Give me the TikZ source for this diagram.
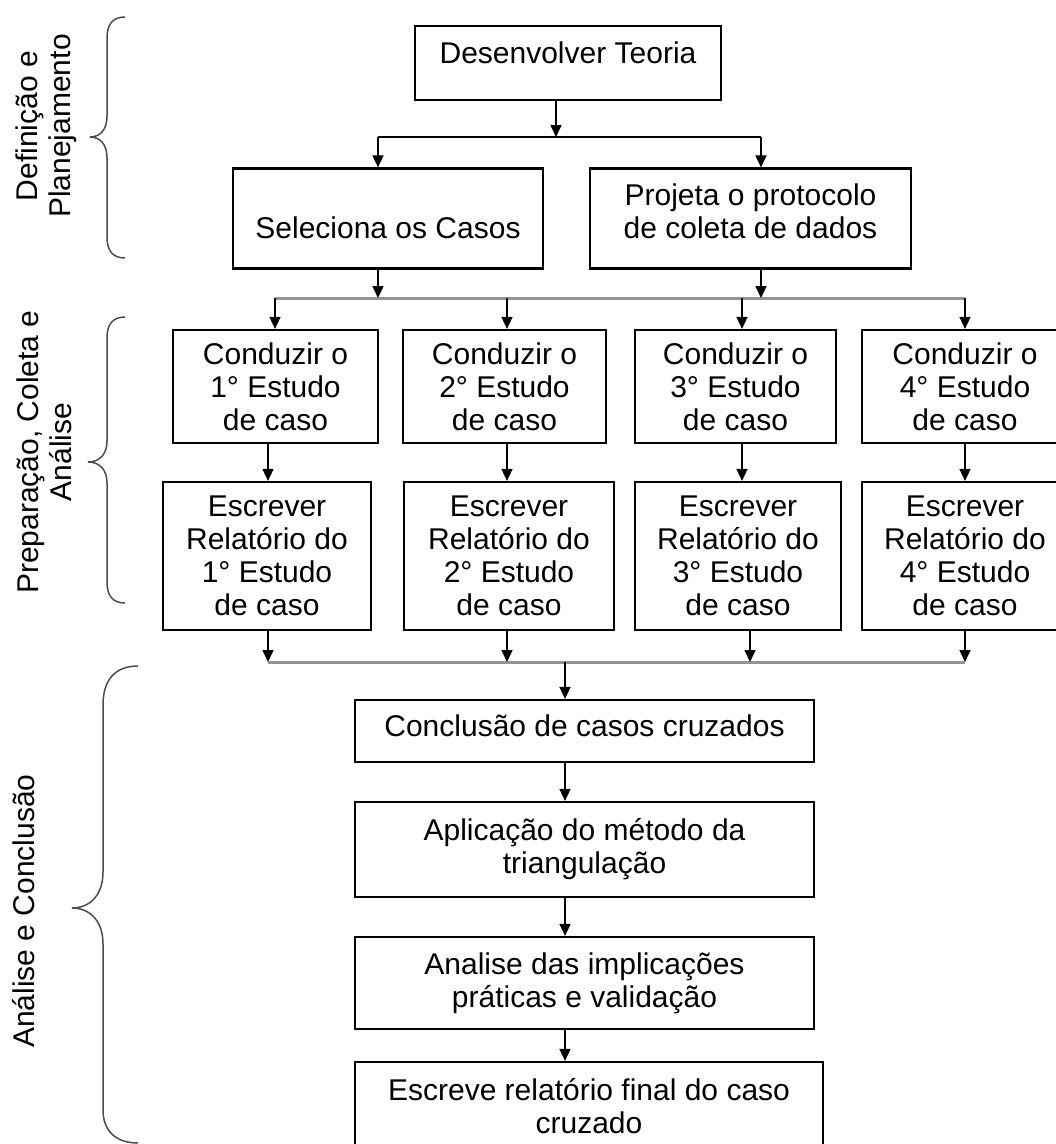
\documentclass[tikz,border=0pt]{standalone}
\usepackage{fontspec}
\setmainfont{Liberation Sans}
\usetikzlibrary{arrows.meta}
\definecolor{busgray}{gray}{0.58}
\definecolor{bracegray}{gray}{0.3}
\begin{document}
\begin{tikzpicture}[x=1pt,y=-1pt,
  box/.style={draw,line width=2.2pt,align=center,inner sep=0pt,
    font=\fontsize{30}{33}\selectfont},
  arr/.style={line width=1.6pt,-{Triangle[length=12pt,width=11pt]}},
  link/.style={line width=1.6pt},
  bus/.style={line width=3pt,busgray},
  brace/.style={line width=1.5pt,bracegray},
  side/.style={rotate=90,align=center,font=\fontsize{30}{33}\selectfont}]
\useasboundingbox (0,0) rectangle (1056,1144);

% --- phase braces and their labels ---
\draw[brace] (125,17) .. controls (113,17) and (107,24) .. (107,38) -- (107,116)
  .. controls (107,130) and (100,137) .. (90,137)
  .. controls (100,137) and (107,144) .. (107,158) -- (107,237)
  .. controls (107,251) and (113,258) .. (125,258);
\draw[brace] (125,317) .. controls (113,317) and (107,324) .. (107,338) -- (107,441)
  .. controls (107,455) and (99,462) .. (88,462)
  .. controls (99,462) and (107,469) .. (107,483) -- (107,582)
  .. controls (107,596) and (113,603) .. (125,603);
\draw[brace] (138,666) .. controls (115,666) and (103,680) .. (103,705) -- (103,872)
  .. controls (103,895) and (90,908) .. (72,908)
  .. controls (90,908) and (103,921) .. (103,944) -- (103,1110)
  .. controls (103,1130) and (115,1143) .. (138,1143);

\node[side] (lab1) at (46,126) {Definição e\\Planejamento};
\node[side] (lab2) at (44,452) {Preparação, Coleta e\\Análise};
\node[side] (lab3) at (24,911) {Análise e Conclusão};

% --- planning ---
\node[box,minimum width=306pt,minimum height=74pt,text height=22pt,text depth=21.5pt]
  (teo) at (568,63) {Desenvolver Teoria};
\node[box,minimum width=310pt,minimum height=100pt,text height=39.5pt,text depth=0pt]
  (sel) at (388,218.5) {Seleciona os Casos};
\node[box,minimum width=321pt,minimum height=100pt,text height=55pt,text depth=14.5pt]
  (proj) at (750.5,218.5) {Projeta o protocolo\\de coleta de dados};

% --- individual case studies ---
\node[box,minimum width=205pt,minimum height=113pt] (c1) at (275.5,386.5) {Conduzir o\\1° Estudo\\de caso};
\node[box,minimum width=203pt,minimum height=113pt] (c2) at (504.5,386.5) {Conduzir o\\2° Estudo\\de caso};
\node[box,minimum width=201pt,minimum height=113pt] (c3) at (735.5,386.5) {Conduzir o\\3° Estudo\\de caso};
\node[box,minimum width=206pt,minimum height=113pt] (c4) at (965,386.5) {Conduzir o\\4° Estudo\\de caso};

\node[box,minimum width=208pt,minimum height=148pt] (e1) at (267,556) {Escrever\\Relatório do\\1° Estudo\\de caso};
\node[box,minimum width=210pt,minimum height=148pt] (e2) at (509,556) {Escrever\\Relatório do\\2° Estudo\\de caso};
\node[box,minimum width=206pt,minimum height=148pt] (e3) at (738,556) {Escrever\\Relatório do\\3° Estudo\\de caso};
\node[box,minimum width=206pt,minimum height=148pt] (e4) at (965,556) {Escrever\\Relatório do\\4° Estudo\\de caso};

% --- cross-case conclusion ---
\node[box,minimum width=459pt,minimum height=62pt,text height=22pt,text depth=10.5pt]
  (cc) at (584.5,731) {Conclusão de casos cruzados};
\node[box,minimum width=459pt,minimum height=95pt] (ap) at (584.5,849.5) {Aplicação do método da\\triangulação};
\node[box,minimum width=459pt,minimum height=92pt] (an) at (584.5,983) {Analise das implicações\\práticas e validação};
\node[box,minimum width=468pt,minimum height=88pt] (es) at (589,1106) {Escreve relatório final do caso\\cruzado};

% --- junction points ---
\coordinate (b0) at (556,137);
\coordinate (bL) at (378,137);
\coordinate (bR) at (761,137);
\coordinate (s2) at (378,298);
\coordinate (t2) at (761,298);
\coordinate (p1) at (275,298);
\coordinate (p2) at (507,298);
\coordinate (p3) at (742,298);
\coordinate (p4) at (965,298);
\coordinate (q1) at (268,662);
\coordinate (q2) at (507,662);
\coordinate (q3) at (750,662);
\coordinate (q4) at (965,662);
\coordinate (qm) at (565,662);

% --- buses ---
\draw[bus] (p1) -- (p4);
\draw[bus] (q1) -- (q4);
\draw[link] (bL) -- (bR);

% --- connectors ---
\draw[arr] (teo.south -| b0) -- (b0);
\draw[arr] (bL) -- (sel.north -| bL);
\draw[arr] (bR) -- (proj.north -| bR);
\draw[arr] (sel.south -| s2) -- (s2);
\draw[arr] (proj.south -| t2) -- (t2);

\draw[arr] (p1) -- (c1.north -| p1);
\draw[arr] (p2) -- (c2.north -| p2);
\draw[arr] (p3) -- (c3.north -| p3);
\draw[arr] (p4) -- (c4.north -| p4);

\draw[arr] (c1.south -| q1) -- (e1.north -| q1);
\draw[arr] (c2.south -| p2) -- (e2.north -| p2);
\draw[arr] (c3.south -| p3) -- (e3.north -| p3);
\draw[arr] (c4.south -| p4) -- (e4.north -| p4);

\draw[arr] (e1.south -| q1) -- (q1);
\draw[arr] (e2.south -| q2) -- (q2);
\draw[arr] (e3.south -| q3) -- (q3);
\draw[arr] (e4.south -| q4) -- (q4);

\draw[arr] (qm) -- (cc.north -| qm);
\draw[arr] (cc.south -| qm) -- (ap.north -| qm);
\draw[arr] (ap.south -| qm) -- (an.north -| qm);
\draw[arr] (an.south -| qm) -- (es.north -| qm);
\end{tikzpicture}
\end{document}
